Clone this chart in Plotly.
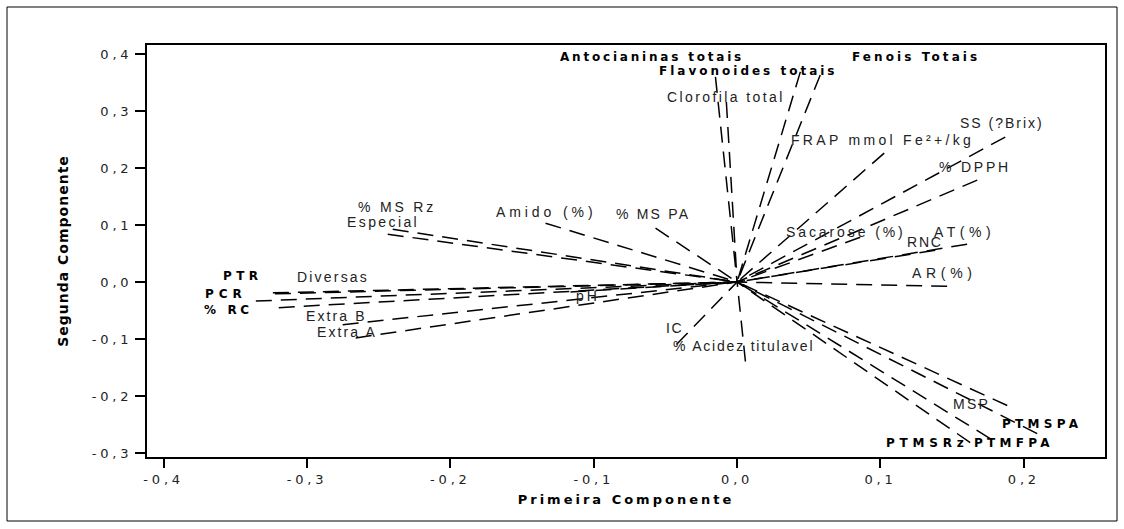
import plotly.graph_objects as go

# ---- data (loadings) ----
variables = ["Antocianinas totais", "Flavonoides totais", "Fenois Totais", "Clorofila total",
             "FRAP mmol Fe²+/kg", "SS (?Brix)", "% DPPH", "Sacarose (%)", "AT(%)", "RNC", "AR(%)",
             "% MS Rz", "Especial", "Amido (%)", "% MS PA",
             "PTR", "Diversas", "PCR", "% RC", "Extra B", "Extra A", "pH",
             "IC", "% Acidez titulavel",
             "MSP", "PTMSPA", "PTMFPA", "PTMSRz"]
pc1 = [-0.0151, 0.0441, 0.0580, -0.0075,
       0.1026, 0.1870, 0.1675, 0.0859, 0.1604, 0.1382, 0.1465,
       -0.2402, -0.2437, -0.1336, -0.0569,
       -0.3238, -0.3224, -0.3357, -0.3197, -0.2751, -0.2660, -0.1162,
       -0.0423, 0.0058,
       0.1884, 0.2093, 0.1765, 0.1626]
pc2 = [0.3598, 0.3686, 0.3633, 0.3158,
       0.2262, 0.2543, 0.1787, 0.0786, 0.0663, 0.0557, -0.0076,
       0.0926, 0.0838, 0.1032, 0.0944,
       -0.0190, -0.0207, -0.0334, -0.0450, -0.0749, -0.0981, -0.0176,
       -0.1095, -0.1394,
       -0.2167, -0.2659, -0.2747, -0.2817]
bold_vars = {"Antocianinas totais", "Flavonoides totais", "Fenois Totais",
             "PTR", "PCR", "% RC", "PTMSPA", "PTMFPA", "PTMSRz"}
xticks = [-0.4, -0.3, -0.2, -0.1, 0.0, 0.1, 0.2]
yticks = [-0.3, -0.2, -0.1, 0.0, 0.1, 0.2, 0.3, 0.4]

# ---- label styling: pixel offsets from vector tip (right, down) and letter spacing ----
label_offsets = [(-63, -20), (-52, -1), (96, -18), (0, -5),
                 (-2, -13), (-3, -14), (-2, -13), (-14, -5), (-3, -12), (-10, -8), (-3, -13),
                 (4, -22), (-5, -12), (0, -11), (-3, -14),
                 (-30, -17), (58, -17), (-30, -7), (-50, 2), (-6, -9), (-9, -6), (17, 4),
                 (-2, -16), (-2, -15),
                 (-36, -2), (5, -10), (24, 4), (-43, 0)]
label_spacing = [2.8, 3.0, 3.1, 2.4,
                 3.3, 2.0, 2.8, 2.9, 4.5, 1.8, 4.7,
                 2.8, 2.4, 3.9, 2.2,
                 4.4, 2.2, 4.9, 3.6, 2.1, 2.1, 3.0,
                 1.5, 1.8,
                 2.3, 4.3, 4.3, 4.8]

AXFONT = "DejaVu Sans"
LBLFONT = "Liberation Sans"
BOLDFONT = "DejaVu Sans"


def spaced(t, ls):
    return f'<span style="letter-spacing:{ls}px">{t}</span>'


def fmt(v):
    s = f"{v:.1f}".replace(".", ",")
    if s == "-0,0":
        s = "0,0"
    return s


xs, ys = [], []
for a, b in zip(pc1, pc2):
    xs += [a, 0, None]
    ys += [b, 0, None]

fig = go.Figure()
fig.add_trace(go.Scatter(x=xs, y=ys, mode="lines",
                         line=dict(color="black", width=1.5, dash="16px,9px"),
                         hoverinfo="skip", showlegend=False))

for name, a, b, (dx, dy), ls in zip(variables, pc1, pc2, label_offsets, label_spacing):
    isb = name in bold_vars
    txt = f"<b>{name}</b>" if isb else name
    fig.add_annotation(x=a, y=b, text=spaced(txt, ls), showarrow=False,
                       xshift=dx, yshift=-dy,
                       font=dict(family=BOLDFONT if isb else LBLFONT, size=12 if isb else 14,
                                 color="black" if isb else "#222"))

# outer border (pixel -> paper)
L, R, T, B = 147, 1105, 45, 457
W, H = 1124, 529
pw, ph = R - L, B - T
fig.add_shape(type="rect", xref="paper", yref="paper",
              x0=(7 - L) / pw, x1=(1117 - L) / pw,
              y0=(B - 521) / ph, y1=(B - 7) / ph,
              line=dict(color="black", width=1), fillcolor="rgba(0,0,0,0)", layer="below")

fig.update_layout(
    width=W, height=H,
    margin=dict(l=L, r=W - R, t=T, b=H - B),
    paper_bgcolor="white", plot_bgcolor="white",
    font=dict(family=AXFONT, size=13, color="#222"),
    showlegend=False,
    xaxis=dict(range=[-0.4116, 0.2566], tickvals=xticks,
               ticktext=[spaced(fmt(v), 3.8) for v in xticks],
               ticks="outside", ticklen=9, tickwidth=1.5, tickcolor="black",
               showline=True, linecolor="black", linewidth=2, mirror=True,
               showgrid=False, zeroline=False,
               tickfont=dict(family=AXFONT, size=13, color="#222"),
               title=dict(text="<b>" + spaced("Primeira Componente", 3) + "</b>",
                          font=dict(family=AXFONT, size=13, color="black"), standoff=9)),
    yaxis=dict(range=[-0.307, 0.4158], tickvals=yticks,
               ticktext=[spaced(fmt(v), 3.8) for v in yticks],
               ticks="outside", ticklen=10, tickwidth=1.5, tickcolor="black",
               showline=True, linecolor="black", linewidth=2, mirror=True,
               showgrid=False, zeroline=False,
               tickfont=dict(family=AXFONT, size=13, color="#222"),
               title=dict(text="<b>" + spaced("Segunda Componente", 1) + "</b>",
                          font=dict(family=AXFONT, size=14, color="black"), standoff=20)),
)

fig.write_html("out.html", config={"displayModeBar": False},
               post_script="document.body.style.margin='0';")
